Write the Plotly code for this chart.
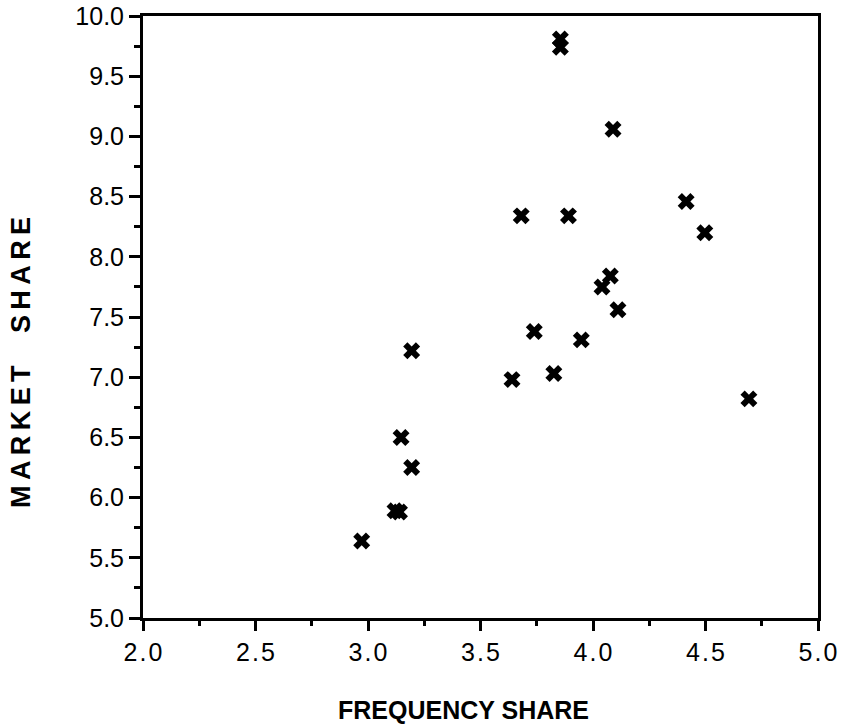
import plotly.graph_objects as go

# Data
freq_share = [3.855, 3.855, 4.089, 3.681, 3.891, 4.414, 4.497, 4.077, 4.040, 4.111,
              3.739, 3.948, 3.194, 3.826, 3.640, 4.693, 3.147, 3.194, 3.12, 3.14, 2.972]
market_share = [9.81, 9.74, 9.06, 8.34, 8.34, 8.46, 8.20, 7.84, 7.75, 7.56,
                7.38, 7.31, 7.22, 7.03, 6.98, 6.82, 6.50, 6.25, 5.89, 5.88, 5.64]

x_tick_vals = [2.0, 2.5, 3.0, 3.5, 4.0, 4.5, 5.0]
x_tick_text = ["2.0", "2.5", "3.0", "3.5", "4.0", "4.5", "5.0"]
y_tick_vals = [5.0, 5.5, 6.0, 6.5, 7.0, 7.5, 8.0, 8.5, 9.0, 9.5, 10.0]
y_tick_text = ["5.0", "5.5", "6.0", "6.5", "7.0", "7.5", "8.0", "8.5", "9.0", "9.5", "10.0"]

x_title = "FREQUENCY SHARE"
y_title = "MARKET  SHARE"

HS = "\u200a"
TS = "\u2009"


def spaced(s, sep):
    return sep.join(list(s))


fig = go.Figure()
fig.add_trace(go.Scatter(
    x=freq_share, y=market_share, mode="markers",
    marker=dict(symbol="x", size=15, color="black", line=dict(width=0)),
    showlegend=False, hoverinfo="x+y",
))

tickfont = dict(family="Liberation Sans, Arial, sans-serif", size=25, color="black")

fig.update_xaxes(
    range=[2.0, 5.0], tickvals=x_tick_vals,
    ticktext=[spaced(t, HS) for t in x_tick_text],
    showline=True, linecolor="black", linewidth=3, mirror=True,
    ticks="outside", ticklen=10, tickwidth=2.5, tickcolor="black",
    minor=dict(dtick=0.25, ticks="outside", ticklen=5, tickwidth=2.5, tickcolor="black"),
    showgrid=False, zeroline=False, tickfont=tickfont, automargin=False,
)
fig.update_yaxes(
    range=[5.0, 10.0], tickvals=y_tick_vals, ticktext=y_tick_text,
    showline=True, linecolor="black", linewidth=3, mirror=True,
    ticks="outside", ticklen=11, tickwidth=2.5, tickcolor="black",
    minor=dict(dtick=0.25, ticks="outside", ticklen=6, tickwidth=2.5, tickcolor="black"),
    showgrid=False, zeroline=False, tickfont=tickfont, automargin=False,
)

ytxt = (TS.join(list("MARKET")) + "\u2003" + TS + TS.join(list("SHARE")))

fig.add_annotation(
    text="<b>" + x_title + "</b>", xref="paper", yref="paper",
    x=0.475, y=-0.153, xanchor="center", yanchor="middle", showarrow=False,
    font=dict(family="Liberation Sans, Arial, sans-serif", size=25, color="black"),
)
fig.add_annotation(
    text="<b>" + ytxt + "</b>", xref="paper", yref="paper",
    x=-0.181, y=0.425, xanchor="center", yanchor="middle", showarrow=False,
    textangle=-90,
    font=dict(family="Liberation Sans, Arial, sans-serif", size=27, color="black"),
)

fig.update_layout(
    width=842, height=728,
    margin=dict(l=143, r=24, t=16, b=110, pad=0, autoexpand=False),
    paper_bgcolor="white", plot_bgcolor="white",
)

fig.write_html("out.html")
